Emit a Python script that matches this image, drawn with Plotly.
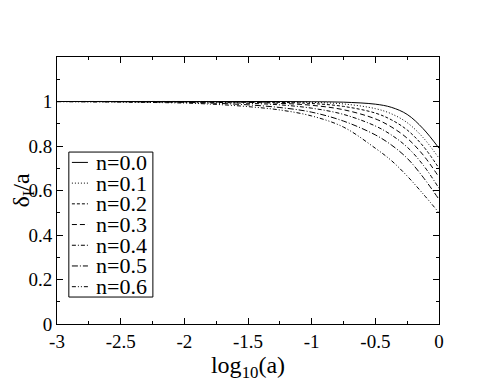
import plotly.graph_objects as go

# x = log10(a)
log_a = [-3, -2.5, -2, -1.75, -1.5, -1.25, -1, -0.75, -0.5, -0.375, -0.25, -0.125, 0]

n_labels = ['n=0.0', 'n=0.1', 'n=0.2', 'n=0.3', 'n=0.4', 'n=0.5', 'n=0.6']

d_n00 = [1.000, 1.000, 1.000, 1.000, 1.000, 1.000, 0.999, 0.997, 0.988, 0.974, 0.942, 0.878, 0.790]
d_n01 = [1.000, 1.000, 1.000, 1.000, 0.999, 0.998, 0.996, 0.989, 0.968, 0.945, 0.905, 0.838, 0.745]
d_n02 = [1.000, 1.000, 1.000, 0.999, 0.998, 0.996, 0.991, 0.978, 0.948, 0.918, 0.872, 0.800, 0.700]
d_n03 = [1.000, 1.000, 0.999, 0.998, 0.996, 0.992, 0.983, 0.963, 0.922, 0.886, 0.835, 0.760, 0.660]
d_n04 = [1.000, 0.999, 0.998, 0.996, 0.992, 0.985, 0.970, 0.942, 0.890, 0.850, 0.795, 0.715, 0.610]
d_n05 = [1.000, 0.999, 0.996, 0.992, 0.985, 0.973, 0.952, 0.912, 0.850, 0.805, 0.745, 0.660, 0.560]
d_n06 = [0.999, 0.997, 0.993, 0.987, 0.977, 0.962, 0.935, 0.885, 0.790, 0.735, 0.665, 0.585, 0.500]

x_ticks = [-3, -2.5, -2, -1.5, -1, -0.5, 0]
x_ticktext = ['-3', '-2.5', '-2', '-1.5', '-1', '-0.5', '0']
y_ticks = [0, 0.2, 0.4, 0.6, 0.8, 1]
y_ticktext = ['0', '0.2', '0.4', '0.6', '0.8', '1']

series = [d_n00, d_n01, d_n02, d_n03, d_n04, d_n05, d_n06]
dashes = ['solid', '1px,2px', '3px,2px', '5px,3px', '4px,2px,1px,2px',
          '6px,2px,1px,2px', '4px,2px,1px,2px,1px,2px']

font = "Times New Roman"

fig = go.Figure()
for lab, vals, dsh in zip(n_labels, series, dashes):
    fig.add_trace(go.Scatter(x=log_a, y=vals, name=lab, mode='lines',
                             line=dict(color='black', width=1, dash=dsh, shape='spline')))

# legend drawn by hand (xmgrace style: big text, tight rows)
leg_x0, leg_x1 = 0.031, 0.251
leg_top, leg_bot = 0.644, 0.101
row = (leg_top - leg_bot) / len(n_labels)
fig.add_shape(type='rect', xref='paper', yref='paper', x0=leg_x0, x1=leg_x1,
              y0=leg_bot, y1=leg_top, line=dict(color='black', width=1),
              fillcolor='white', layer='above')
for i, (lab, dsh) in enumerate(zip(n_labels, dashes)):
    yc = leg_top - row * (i + 0.5)
    fig.add_shape(type='line', xref='paper', yref='paper', x0=0.039, x1=0.081,
                  y0=yc, y1=yc, line=dict(color='black', width=1, dash=dsh), layer='above')
    fig.add_annotation(xref='paper', yref='paper', x=0.097, y=yc, text=lab,
                       showarrow=False, xanchor='left', yanchor='middle',
                       font=dict(family=font, size=22, color='black'))

# the page body has an 8px margin, so the figure is made 8px smaller
fig.update_layout(
    width=486, height=374,
    margin=dict(l=49, r=55, t=49, b=58),
    plot_bgcolor='white', paper_bgcolor='white',
    font=dict(family=font, size=19, color='black'),
    showlegend=False,
)
fig.update_xaxes(
    range=[-3, 0], tickvals=x_ticks, ticktext=x_ticktext,
    ticks='inside', ticklen=6, tickcolor='black', mirror='ticks',
    showline=True, linecolor='black', linewidth=1, showgrid=False, zeroline=False,
    minor=dict(ticks='inside', dtick=0.25, ticklen=3, tickcolor='black', showgrid=False),
    title=dict(text='log<sub>10</sub>(a)', font=dict(family=font, size=24), standoff=0),
    tickfont=dict(family=font, size=19), automargin=False,
)
fig.update_yaxes(
    range=[0, 1.2], tickvals=y_ticks, ticktext=y_ticktext,
    ticks='inside', ticklen=6, tickcolor='black', mirror='ticks',
    showline=True, linecolor='black', linewidth=1, showgrid=False, zeroline=False,
    minor=dict(ticks='inside', dtick=0.1, ticklen=3, tickcolor='black', showgrid=False),
    title=dict(text='δ<sub>I</sub>/a', font=dict(family=font, size=24), standoff=0),
    tickfont=dict(family=font, size=19), automargin=False,
)

fig.write_html("out.html")
